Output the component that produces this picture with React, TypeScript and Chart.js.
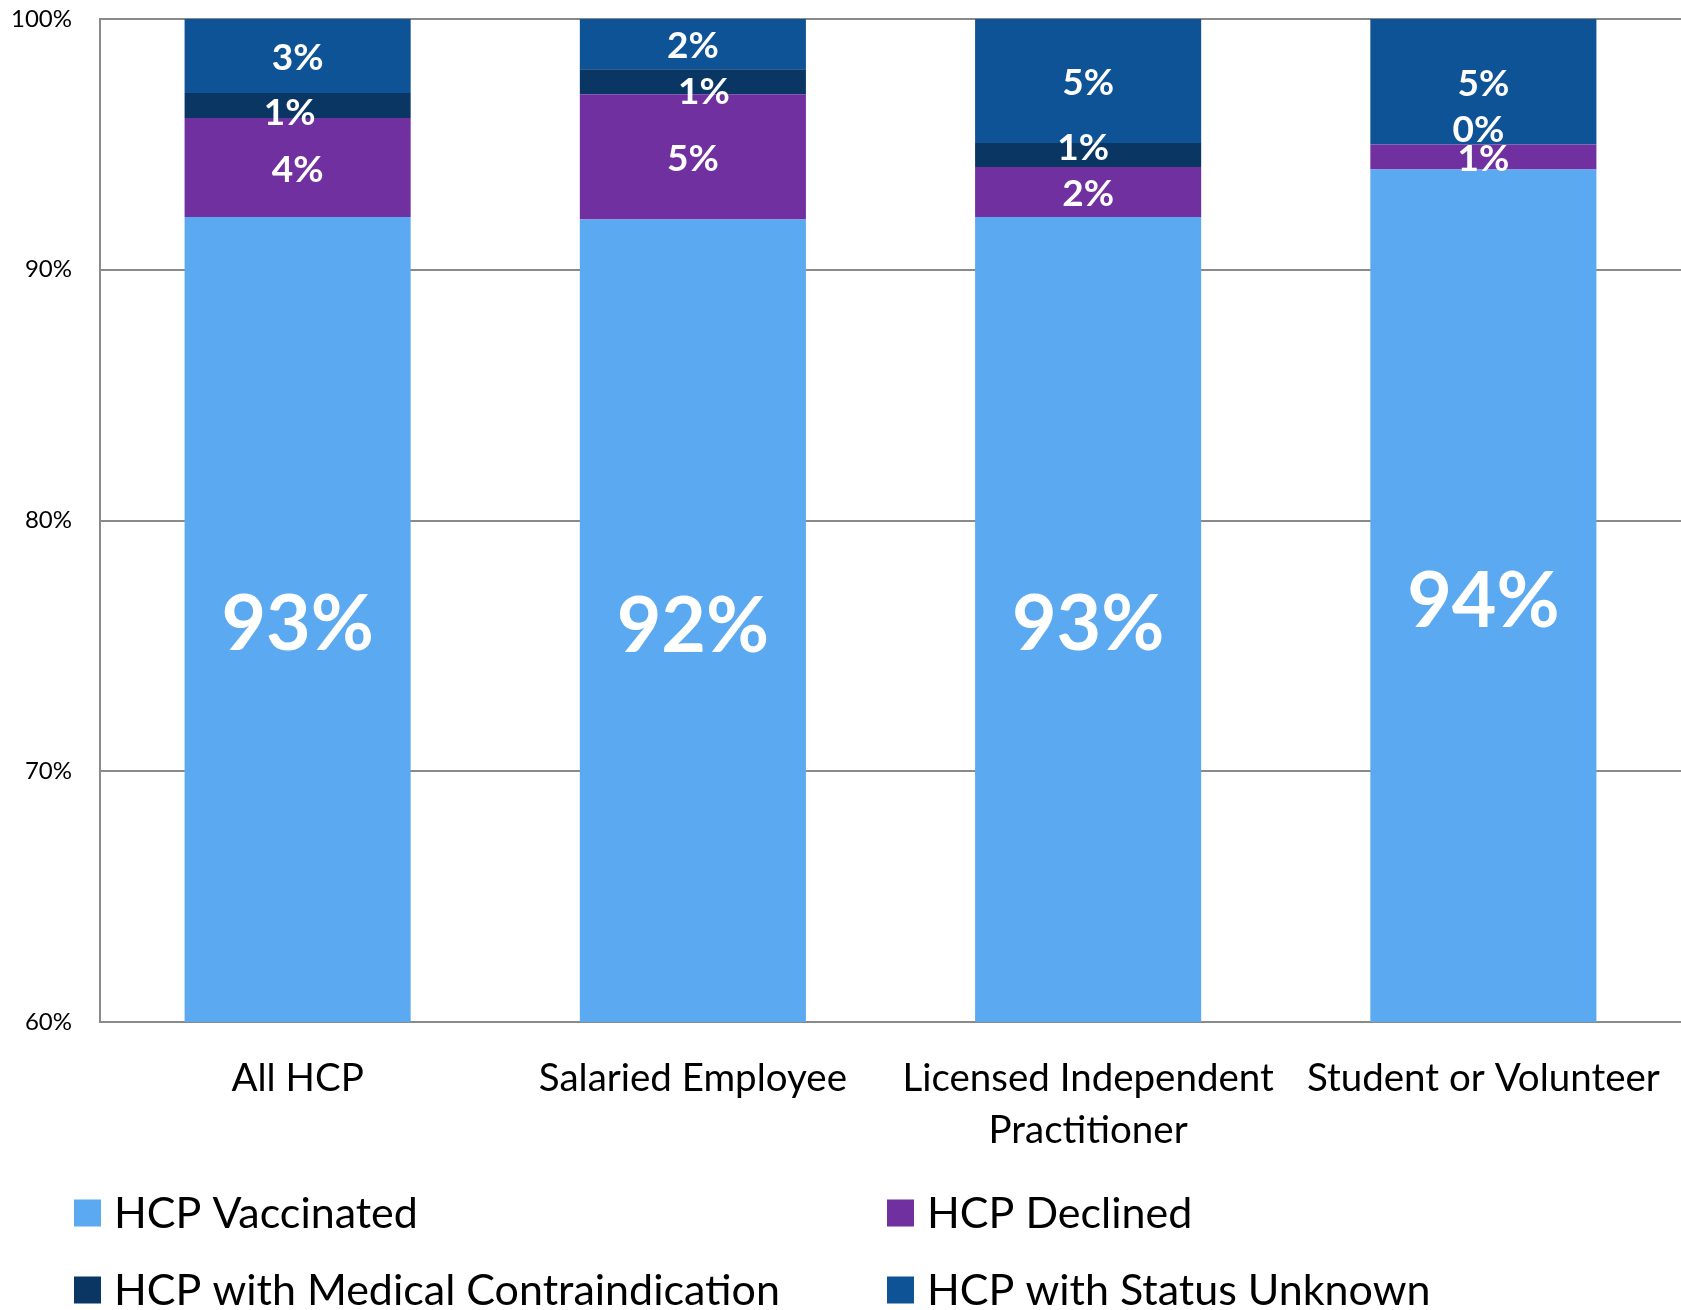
import React, { useEffect, useRef } from "react";
import { Chart, registerables } from "chart.js";

Chart.register(...registerables);

const categories: (string | string[])[] = [
  "All HCP",
  "Salaried Employee",
  ["Licensed Independent", "Practitioner"],
  "Student or Volunteer",
];

const seriesNames = [
  "HCP Vaccinated",
  "HCP Declined",
  "HCP with Medical Contraindication",
  "HCP with Status Unknown",
];

const vaccinated = [92.1, 92.0, 92.1, 94.0];
const declined = [3.95, 5.0, 2.0, 1.0];
const contraindication = [1.0, 1.0, 0.95, 0.0];
const statusUnknown = [2.95, 2.0, 4.95, 5.0];

const vaccinatedLabels = ["93%", "92%", "93%", "94%"];
const declinedLabels = ["4%", "5%", "2%", "1%"];
const contraindicationLabels = ["1%", "1%", "1%", "0%"];
const statusUnknownLabels = ["3%", "2%", "5%", "5%"];

const yTicks = [60, 70, 80, 90, 100];

const colors = ["#5BA9F0", "#7030A0", "#0A3663", "#0E5396"];

// manual label nudges (px), per series then per category
const labelNudges: [number, number][][] = [
  [[0, 0], [0, 0], [0, 0], [0, 0]],
  [[0, 0], [0, 0], [0, 0], [0, 0]],
  [[-8, 6], [11, 8], [-5, -9], [-5, -16]],
  [[0, 0], [0, 0], [0, 0], [0, 0]],
];

const FONT = "Lato, 'Open Sans', sans-serif";

const labelPlugin = {
  id: "segLabels",
  afterDatasetsDraw(chart: any) {
    const { ctx, chartArea } = chart;
    ctx.save();
    ctx.fillStyle = "#FFFFFF";
    ctx.textAlign = "center";
    ctx.textBaseline = "middle";
    chart.data.datasets.forEach((ds: any, di: number) => {
      const meta = chart.getDatasetMeta(di);
      meta.data.forEach((bar: any, i: number) => {
        const top = Math.max(Math.min(bar.y, bar.base), chartArea.top);
        const bottom = Math.min(Math.max(bar.y, bar.base), chartArea.bottom);
        const cy = (top + bottom) / 2;
        const [dx, dy] = labelNudges[di][i];
        const big = di === 0;
        ctx.font = big ? `bold 77px ${FONT}` : `bold 37px ${FONT}`;
        const baseShift = big ? 6 : 2;
        ctx.fillText(ds.valueLabels[i], bar.x + dx, cy + dy + baseShift);
      });
    });
    ctx.restore();
  },
};

const legendPlugin = {
  id: "gridLegend",
  afterDraw(chart: any) {
    const { ctx } = chart;
    const cols = [74, 887];
    const rows = [1213, 1290];
    ctx.save();
    ctx.font = `43px ${FONT}`;
    ctx.textBaseline = "middle";
    ctx.textAlign = "left";
    chart.data.datasets.forEach((ds: any, i: number) => {
      const x = cols[i % 2];
      const y = rows[Math.floor(i / 2)];
      ctx.fillStyle = ds.backgroundColor;
      ctx.fillRect(x, y - 13.5, 27, 27);
      ctx.fillStyle = "#000000";
      ctx.fillText(ds.label, x + 40, y + 1);
    });
    ctx.restore();
  },
};

export default function App() {
  const ref = useRef<HTMLCanvasElement | null>(null);
  useEffect(() => {
    document.body.style.margin = "0";
    if (!ref.current) return;
    const values = [vaccinated, declined, contraindication, statusUnknown];
    const labels = [vaccinatedLabels, declinedLabels, contraindicationLabels, statusUnknownLabels];
    const chart = new Chart(ref.current, {
      type: "bar",
      data: {
        labels: categories,
        datasets: values.map((v, i) => ({
          label: seriesNames[i],
          data: v,
          backgroundColor: colors[i],
          borderWidth: 0,
          barPercentage: 0.572,
          categoryPercentage: 1,
          valueLabels: labels[i],
        })) as any,
      },
      options: {
        responsive: false,
        animation: false,
        layout: { padding: { top: 19, right: 0, bottom: 160, left: 0 } },
        plugins: { legend: { display: false }, tooltip: { enabled: false } },
        scales: {
          x: {
            stacked: true,
            grid: { display: false, drawTicks: false },
            border: { display: true, color: "#8A8A8A", width: 2 },
            ticks: {
              color: "#000000",
              font: { family: FONT, size: 38.5, lineHeight: 1.34 },
              padding: 31,
              maxRotation: 0,
              autoSkip: false,
            },
            afterFit: (s: any) => {
              s.height = 128;
              s.paddingLeft = 0;
              s.paddingRight = 0;
            },
          },
          y: {
            stacked: true,
            min: yTicks[0],
            max: yTicks[yTicks.length - 1],
            afterBuildTicks: (s: any) => {
              s.ticks = yTicks.map((v) => ({ value: v }));
            },
            grid: { color: "#8A8A8A", lineWidth: 2, drawTicks: false },
            border: { display: true, color: "#8A8A8A", width: 2 },
            ticks: {
              color: "#000000",
              font: { family: FONT, size: 24 },
              padding: 28,
              callback: (v: any) => `${v}%`,
            },
            afterFit: (s: any) => {
              s.width = 100;
              s.paddingTop = 0;
              s.paddingBottom = 0;
            },
          },
        },
      },
      plugins: [labelPlugin, legendPlugin],
    });
    return () => chart.destroy();
  }, []);
  return <canvas ref={ref} width={1681} height={1310} style={{ display: "block" }} />;
}
